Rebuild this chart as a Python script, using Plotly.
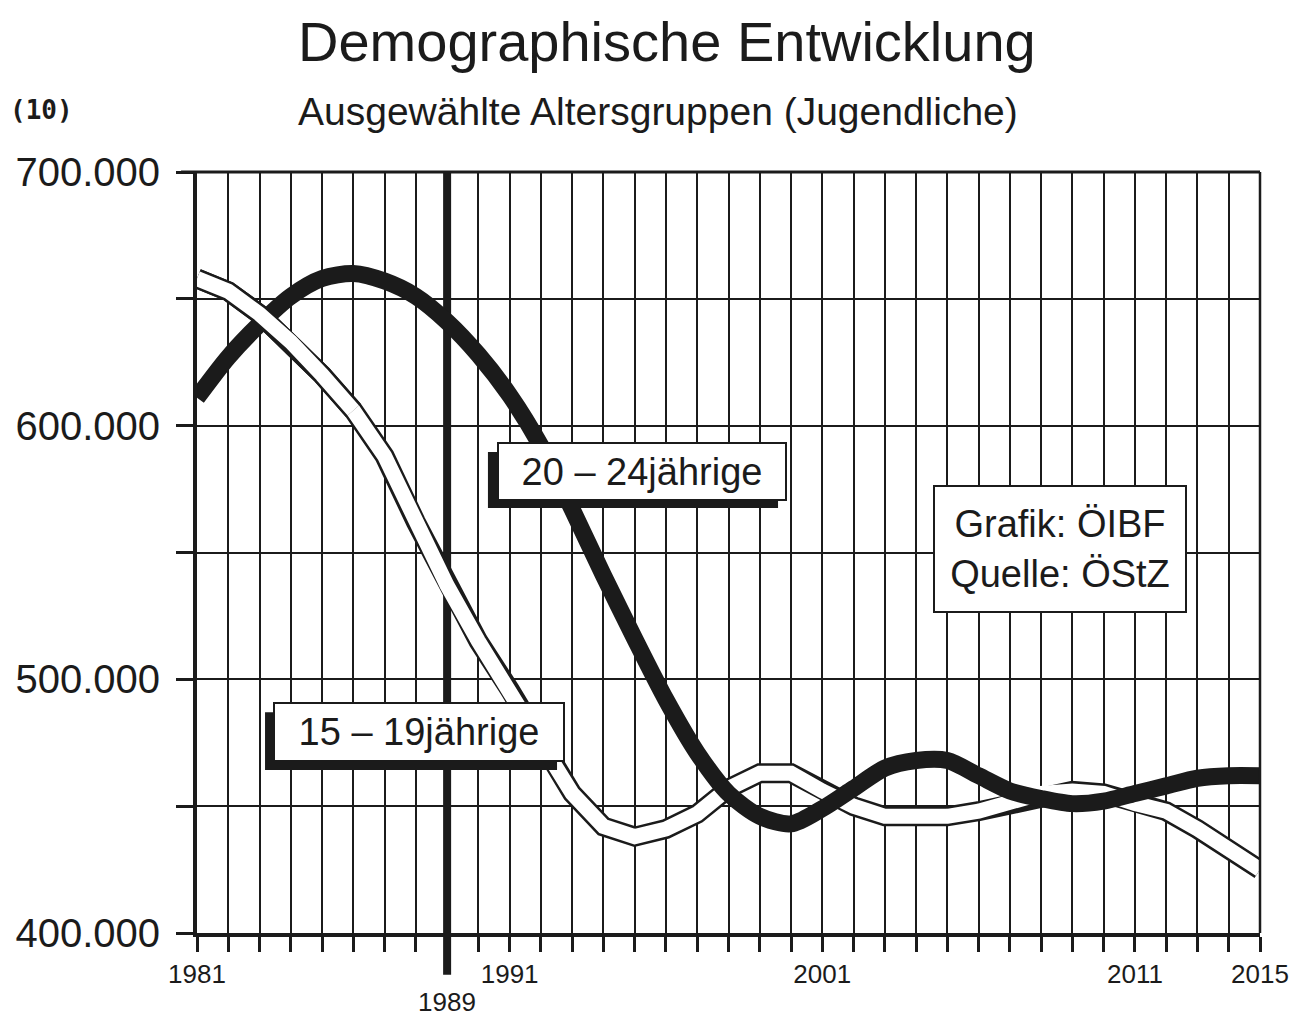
import plotly.graph_objects as go

# ---------------- data ----------------
years = list(range(1981, 2016))
age_20_24 = [611000, 627000, 640000, 651000, 658000, 660000, 657000, 651000, 641000, 628000,
             612000, 592000, 567000, 541000, 516000, 492000, 471000, 455000, 446000, 443000,
             449000, 457000, 465000, 468000, 468000, 462000, 456000, 453000, 451000, 452000,
             455000, 458000, 461000, 462000, 462000]
age_15_19 = [658000, 653000, 644000, 633000, 620000, 606000, 588000, 562000, 537000, 515000,
             496000, 475000, 455000, 442000, 438000, 441000, 447000, 457000, 463000, 463000,
             456000, 450000, 446000, 446000, 446000, 448000, 451000, 455000, 456000, 455000,
             451000, 448000, 441000, 433000, 425000]
labelled_years = [1981, 1991, 2001, 2011, 2015]
marker_year = 1989
y_ticks = [400000, 450000, 500000, 550000, 600000, 650000, 700000]
y_tick_labels = ["400.000", "", "500.000", "", "600.000", "", "700.000"]
series_names = ["20 \u2013 24jährige", "15 \u2013 19jährige"]
title = "Demographische Entwicklung"
subtitle = "Ausgewählte Altersgruppen (Jugendliche)"
source_text = "Grafik: ÖIBF<br>Quelle: ÖStZ"
page_no = "(10)"
early_n = 6  # early part of the 15-19 curve drawn above the 20-24 curve

INK = "#1b1b1b"
SANS = "Liberation Sans, Arial, Helvetica"

fig = go.Figure()

# 15-19: hollow band (outline + white core)
fig.add_trace(go.Scatter(x=years, y=age_15_19, mode="lines",
                         line=dict(color=INK, width=20), hoverinfo="skip", showlegend=False))
fig.add_trace(go.Scatter(x=years, y=age_15_19, mode="lines",
                         line=dict(color="white", width=15), hoverinfo="skip", showlegend=False))
# 20-24: thick black
fig.add_trace(go.Scatter(x=years, y=age_20_24, mode="lines",
                         line=dict(color=INK, width=17, shape="spline", smoothing=0.8),
                         name=series_names[0], showlegend=False))
# early part of 15-19 on top (crossing)
fig.add_trace(go.Scatter(x=years[:early_n], y=age_15_19[:early_n], mode="lines",
                         line=dict(color=INK, width=20), hoverinfo="skip", showlegend=False))
fig.add_trace(go.Scatter(x=years[:early_n], y=age_15_19[:early_n], mode="lines",
                         line=dict(color="white", width=15), hoverinfo="skip", showlegend=False))

fig.update_layout(
    width=1290, height=1008,
    margin=dict(l=189, r=38, t=164, b=83, autoexpand=False),
    paper_bgcolor="white", plot_bgcolor="white",
    showlegend=False,
    xaxis=dict(
        range=[years[0], years[-1]], automargin=False,
        tickmode="array", tickvals=years,
        ticktext=[str(y) if y in labelled_years else "" for y in years],
        ticks="outside", ticklen=15, tickwidth=3, tickcolor=INK,
        showgrid=True, gridcolor=INK, gridwidth=2,
        showline=True, linewidth=4, linecolor=INK,
        zeroline=False,
        tickfont=dict(family=SANS, size=26, color=INK),
    ),
    yaxis=dict(
        range=[y_ticks[0], y_ticks[-1]], automargin=False,
        tickmode="array", tickvals=y_ticks, ticktext=y_tick_labels,
        ticks="outside", ticklen=17, tickwidth=3, tickcolor=INK,
        ticklabelstandoff=8,
        showgrid=True, gridcolor=INK, gridwidth=2,
        showline=True, linewidth=4, linecolor=INK,
        zeroline=False,
        tickfont=dict(family=SANS, size=40, color=INK),
    ),
    shapes=[
        dict(type="line", xref="x", yref="paper", x0=marker_year, x1=marker_year,
             y0=-0.055, y1=1, line=dict(color=INK, width=8), layer="below"),
        dict(type="line", xref="paper", yref="paper", x0=-0.015, x1=1, y0=1, y1=1,
             line=dict(color=INK, width=3)),
        dict(type="line", xref="paper", yref="paper", x0=1, x1=1, y0=0, y1=1,
             line=dict(color=INK, width=2.5)),
        # drop shadows of the two series labels
        dict(type="rect", xref="paper", yref="paper", x0=0.2737, x1=0.5466, y0=0.5585, y1=0.632,
             fillcolor=INK, line=dict(width=0), layer="above"),
        dict(type="rect", xref="paper", yref="paper", x0=0.064, x1=0.3387, y0=0.2142, y1=0.290,
             fillcolor=INK, line=dict(width=0), layer="above"),
    ],
)

ann = []
ann.append(dict(text=title, xref="paper", yref="paper", x=0.442, y=1.171,
                showarrow=False, xanchor="center", yanchor="middle",
                font=dict(family=SANS, size=56, color=INK)))
ann.append(dict(text=subtitle, xref="paper", yref="paper", x=0.4337, y=1.079,
                showarrow=False, xanchor="center", yanchor="middle",
                font=dict(family=SANS, size=39, color=INK)))
ann.append(dict(text=page_no, xref="paper", yref="paper", x=-0.146, y=1.081,
                showarrow=False, xanchor="center", yanchor="middle",
                font=dict(family="DejaVu Sans Mono", size=26, color=INK, weight="bold")))
ann.append(dict(text=str(marker_year), xref="x", yref="paper", x=marker_year, y=-0.091,
                showarrow=False, xanchor="center", yanchor="middle",
                font=dict(family=SANS, size=26, color=INK)))

def boxed(text, x, y, w, h):
    return dict(text=text, xref="paper", yref="paper", x=x, y=y, showarrow=False,
                xanchor="center", yanchor="middle", borderpad=5, borderwidth=2,
                width=w, height=h, bgcolor="white", bordercolor=INK,
                font=dict(family=SANS, size=38, color=INK))

ann.append(boxed(series_names[0], 0.4186, 0.607, 276, 45))
ann.append(boxed(series_names[1], 0.2088, 0.2635, 278, 46))
ann.append(boxed(source_text, 0.812, 0.5046, 240, 114))

fig.update_layout(annotations=ann)
fig.write_html("out.html")
